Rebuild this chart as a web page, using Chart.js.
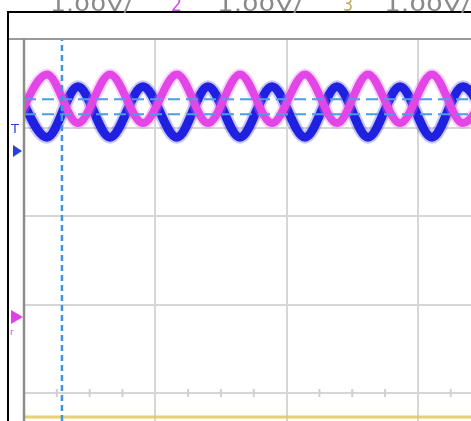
<!DOCTYPE html>
<html>
<head>
<meta charset="utf-8">
<script src="https://cdn.jsdelivr.net/npm/chart.js@4"></script>
<style>
  html, body { margin: 0; padding: 0; background: #fff; }
  #scope { display: block; }
</style>
</head>
<body>
<canvas id="scope" width="471" height="421"></canvas>
<script>
// time axis in divisions (screen centre = 0)
var timeDiv = [-5.069, -4.825, -4.589, -4.345, -4.094, -3.835, -3.599, -3.355,
               -3.111, -2.860, -2.616, -2.380, -2.136, -1.893, -1.657, -1.405];
// channel traces, vertical position in divisions (1.00V/div)
var ch1Trace = [3.46, 2.89, 3.46, 2.89, 3.46, 2.89, 3.46, 2.89,
                3.46, 2.89, 3.46, 2.89, 3.46, 2.89, 3.46, 2.89];
var ch2Trace = [3.05, 3.60, 3.05, 3.60, 3.05, 3.60, 3.05, 3.60,
                3.05, 3.60, 3.05, 3.60, 3.05, 3.60, 3.05, 3.60];
var ch3Level = -0.271;
// cursors
var timeCursor = -4.711;
var voltCursors = [3.318, 3.149];
// header
var headerLabels = ['1.00V/', '2', '1.00V/', '3', '1.00V/'];
var headerColors = ['#8a8a8a', '#d24fe0', '#8a8a8a', '#b9aa62', '#8a8a8a'];
var headerSpans = [[50, 132], [171, 182], [217, 302], [343, 353], [384, 470]];
// grid
var xMajor = [-5, -4, -3, -2];
var yMajor = [0, 1, 2, 3, 4];
var xMinor = [];
for (let v = -4.75; v < -1.5; v += 0.25) {
  if (Math.abs(v - Math.round(v)) > 0.01) xMinor.push(v);
}

var xMin = -5, xMax = -5 + 447 / 131.3;
var yMin = -28 / 88.6, yMax = 4;

function pts(xs, ys) {
  return xs.map(function (x, i) { return { x: x, y: ys[i] }; });
}

var scopeDecor = {
  id: 'scopeDecor',
  beforeDatasetsDraw: function (chart) {
    var ctx = chart.ctx;
    var xs = chart.scales.x, ys = chart.scales.y;
    var y0 = ys.getPixelForValue(0);
    ctx.save();
    ctx.strokeStyle = '#cfcfcf';
    ctx.lineWidth = 2;
    for (let v of xMinor) {
      var px = xs.getPixelForValue(v);
      ctx.beginPath();
      ctx.moveTo(px, y0 - 4);
      ctx.lineTo(px, y0 + 4);
      ctx.stroke();
    }
    ctx.restore();
  },
  afterDraw: function (chart) {
    var ctx = chart.ctx;
    var area = chart.chartArea;
    ctx.save();
    // header separator
    ctx.strokeStyle = '#9a9a9a';
    ctx.lineWidth = 2;
    ctx.beginPath();
    ctx.moveTo(8, area.top);
    ctx.lineTo(471, area.top);
    ctx.stroke();
    // left border of graticule
    ctx.strokeStyle = '#8c8c8c';
    ctx.lineWidth = 2.5;
    ctx.beginPath();
    ctx.moveTo(area.left, area.top);
    ctx.lineTo(area.left, 421);
    ctx.stroke();
    // black frame
    ctx.strokeStyle = '#000';
    ctx.lineWidth = 2;
    ctx.beginPath();
    ctx.moveTo(8, 421);
    ctx.lineTo(8, 12);
    ctx.lineTo(471, 12);
    ctx.stroke();
    // header texts
    ctx.font = '19px "Liberation Sans Narrow", "DejaVu Sans Condensed", "DejaVu Sans", sans-serif';
    ctx.textBaseline = 'alphabetic';
    headerLabels.forEach(function (t, i) {
      var span = headerSpans[i];
      var w = ctx.measureText(t).width;
      ctx.save();
      ctx.translate(span[0], 11);
      ctx.scale((span[1] - span[0]) / w, 1);
      ctx.fillStyle = headerColors[i];
      ctx.fillText(t, 0, 0);
      ctx.restore();
    });
    // trigger + channel markers
    ctx.fillStyle = '#2a3fe0';
    ctx.font = '13px "DejaVu Sans", sans-serif';
    ctx.fillText('T', 11, 133);
    ctx.beginPath();
    ctx.moveTo(13, 145);
    ctx.lineTo(22, 151);
    ctx.lineTo(13, 157);
    ctx.closePath();
    ctx.fill();
    ctx.fillStyle = '#e040e6';
    ctx.beginPath();
    ctx.moveTo(11, 310);
    ctx.lineTo(23, 317);
    ctx.lineTo(11, 324);
    ctx.closePath();
    ctx.fill();
    ctx.font = '9px "DejaVu Sans", sans-serif';
    ctx.fillText('r', 10, 335);
    ctx.restore();
  }
};

new Chart(document.getElementById('scope'), {
  type: 'line',
  data: {
    datasets: [
      {
        data: pts([timeCursor, timeCursor], [yMin, yMax]),
        borderColor: '#3f93e0', borderWidth: 2.5, borderDash: [6, 4]
      },
      {
        data: pts([xMin, xMax], [voltCursors[0], voltCursors[0]]),
        borderColor: '#4a9de6', borderWidth: 2, borderDash: [12, 6]
      },
      {
        data: pts([xMin, xMax], [voltCursors[1], voltCursors[1]]),
        borderColor: '#4a9de6', borderWidth: 2, borderDash: [12, 6]
      },
      {
        data: pts(timeDiv, ch2Trace),
        borderColor: '#e246e6', borderWidth: 8,
        cubicInterpolationMode: 'monotone'
      },
      {
        data: pts(timeDiv, ch2Trace),
        borderColor: 'rgba(236,110,236,0.3)', borderWidth: 12,
        cubicInterpolationMode: 'monotone'
      },
      {
        data: pts(timeDiv, ch1Trace),
        borderColor: '#2020e0', borderWidth: 9,
        cubicInterpolationMode: 'monotone'
      },
      {
        data: pts(timeDiv, ch1Trace),
        borderColor: 'rgba(70,70,240,0.3)', borderWidth: 13,
        cubicInterpolationMode: 'monotone'
      },
      {
        data: pts([xMin, xMax], [ch3Level, ch3Level]),
        borderColor: 'rgba(226,200,90,0.85)', borderWidth: 3
      }
    ]
  },
  options: {
    responsive: false,
    animation: false,
    devicePixelRatio: 1,
    layout: { padding: { left: 24, top: 39, right: 0, bottom: 0 } },
    elements: { point: { radius: 0 } },
    datasets: { line: { clip: 0 } },
    plugins: { legend: { display: false }, tooltip: { enabled: false } },
    scales: {
      x: {
        type: 'linear', min: xMin, max: xMax,
        afterBuildTicks: function (s) { s.ticks = xMajor.map(function (v) { return { value: v }; }); },
        ticks: { display: false },
        border: { display: false },
        grid: { color: '#d6d6d6', lineWidth: 2, drawTicks: false }
      },
      y: {
        type: 'linear', min: yMin, max: yMax,
        afterBuildTicks: function (s) { s.ticks = yMajor.map(function (v) { return { value: v }; }); },
        ticks: { display: false },
        border: { display: false },
        grid: { color: '#d6d6d6', lineWidth: 2, drawTicks: false }
      }
    }
  },
  plugins: [scopeDecor]
});
</script>
</body>
</html>
